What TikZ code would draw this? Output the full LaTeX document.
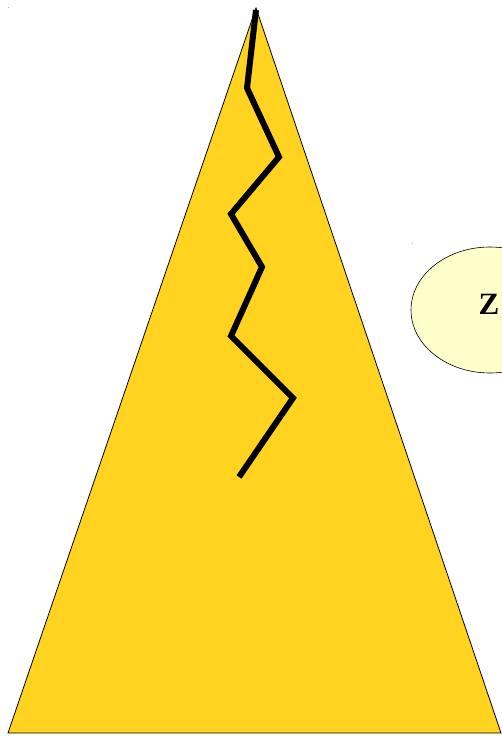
\documentclass[tikz,border=0pt]{standalone}
\usepackage{fontspec}
\setmainfont{Liberation Serif}
\usetikzlibrary{shapes.geometric}
\definecolor{gold}{RGB}{255,211,32}
\definecolor{paleyellow}{RGB}{255,255,204}
\begin{document}
\begin{tikzpicture}[x=1pt,y=-1pt,
  zig/.style={line width=6pt,line join=miter,black},
  bubble/.style={ellipse,draw=black,line width=0.6pt,fill=paleyellow,minimum width=158pt,minimum height=126pt,inner sep=0pt}]
\useasboundingbox (0,0) rectangle (502,736);
\clip (0,0) rectangle (502,736);
\fill[gray!60] (7.5,6.5) rectangle (9,7.5);
\fill[gray!60] (411.5,242.5) rectangle (413,243.5);
\coordinate (apex) at (256,8);
\coordinate (bl) at (8,733);
\coordinate (br) at (501,733);
\draw[fill=gold,line width=0.8pt] (apex) -- (bl) -- (br) -- cycle;
\coordinate (p0) at (256,10);
\coordinate (p1) at (247,88);
\coordinate (p2) at (279,157);
\coordinate (p3) at (231,214);
\coordinate (p4) at (262,267);
\coordinate (p5) at (231,336);
\coordinate (p6) at (293,398);
\coordinate (p7) at (239,477);
\draw[zig] (p0) -- (p1) -- (p2) -- (p3) -- (p4) -- (p5) -- (p6) -- (p7);
\node[bubble] (z) at (490,310) {};
\node[font=\fontsize{31}{31}\selectfont\bfseries,inner sep=0pt] (zt) at (489,304) {Z};
\end{tikzpicture}
\end{document}
